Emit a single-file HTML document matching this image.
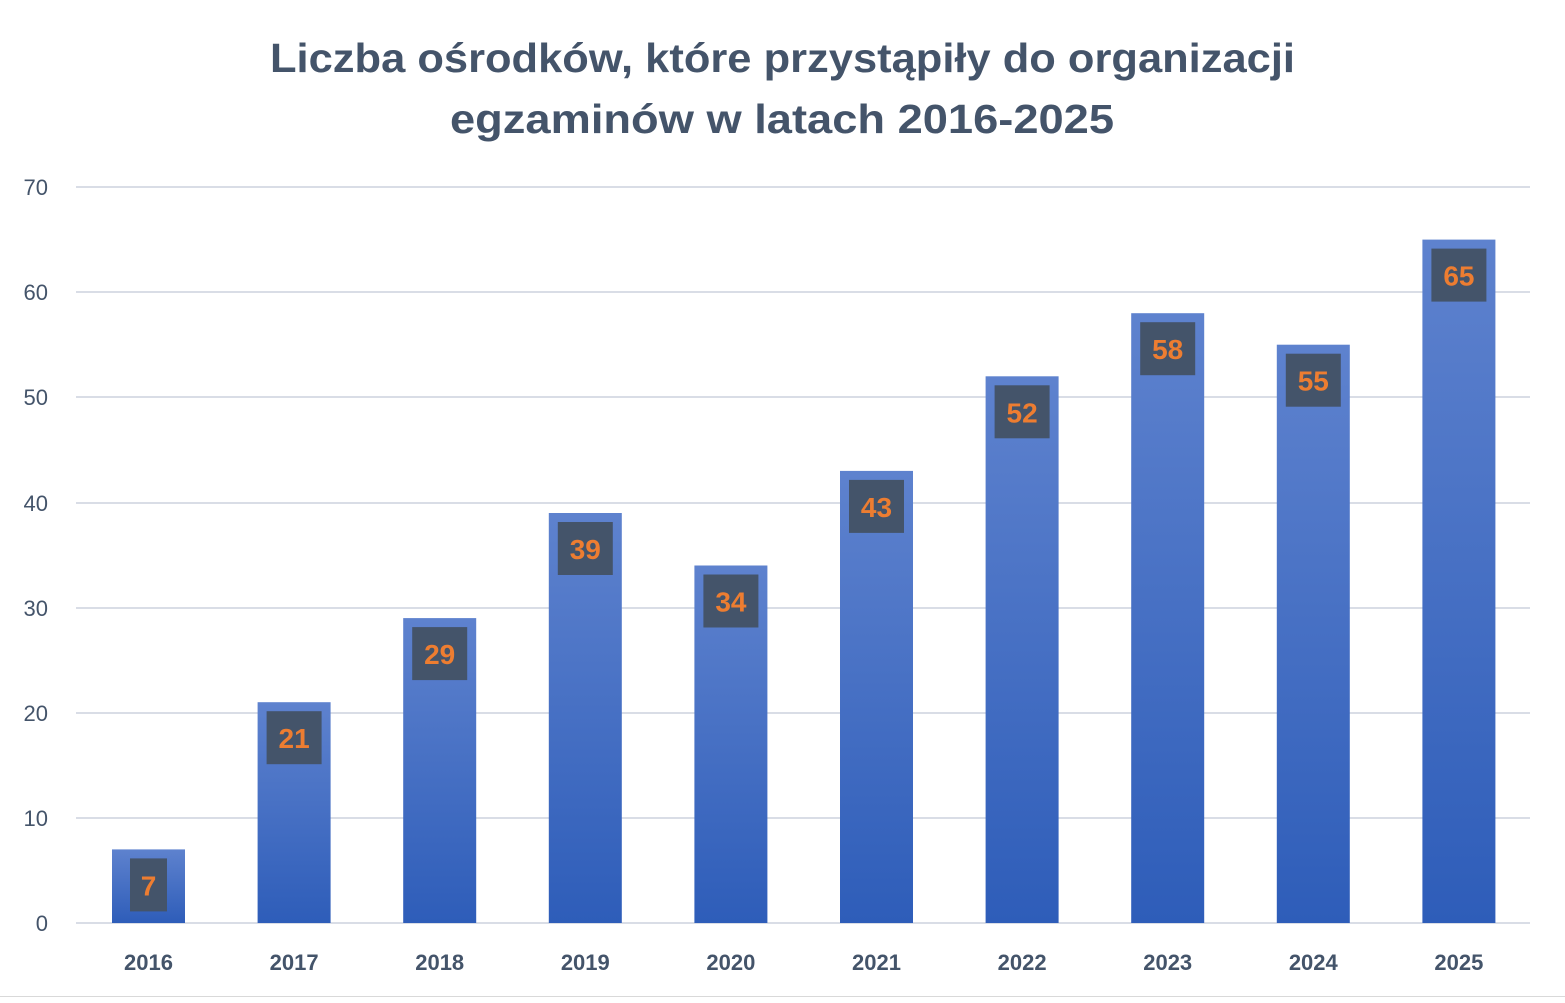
<!DOCTYPE html>
<html><head><meta charset="utf-8"><style>
body{margin:0;background:#fff}
svg text{font-family:"Liberation Sans",sans-serif}
</style></head><body>
<svg width="1565" height="998" viewBox="0 0 1565 998" xmlns="http://www.w3.org/2000/svg">
<defs><linearGradient id="g" x1="0" y1="0" x2="0" y2="1"><stop offset="0" stop-color="#5e82ce"/><stop offset="1" stop-color="#2e5db9"/></linearGradient></defs>
<rect x="0" y="0" width="1565" height="998" fill="#fff"/>
<line x1="0" y1="996.5" x2="1565" y2="996.5" stroke="#d9d9d9"/>
<g fill="#44546a" font-weight="bold" font-size="41">
<text x="270" y="72" textLength="1025" lengthAdjust="spacingAndGlyphs">Liczba ośrodków, które przystąpiły do organizacji</text>
<text x="450" y="133" textLength="664" lengthAdjust="spacingAndGlyphs">egzaminów w latach 2016-2025</text>
</g>
<g stroke="#d9dde6" stroke-width="2">
<line x1="76" x2="1530" y1="187" y2="187"/><line x1="76" x2="1530" y1="292" y2="292"/>
<line x1="76" x2="1530" y1="397" y2="397"/><line x1="76" x2="1530" y1="503" y2="503"/>
<line x1="76" x2="1530" y1="608" y2="608"/><line x1="76" x2="1530" y1="713" y2="713"/>
<line x1="76" x2="1530" y1="818" y2="818"/><line x1="76" x2="1530" y1="923" y2="923"/>
</g>
<g fill="#44546a" font-size="22" text-anchor="end">
<text x="48" y="195">70</text><text x="48" y="300">60</text><text x="48" y="405">50</text><text x="48" y="511">40</text>
<text x="48" y="616">30</text><text x="48" y="721">20</text><text x="48" y="826">10</text><text x="48" y="931">0</text>
</g>
<g fill="url(#g)">
<rect x="112" y="849.4" width="73" height="73.6"/>
<rect x="257.6" y="702.2" width="73" height="220.8"/>
<rect x="403.2" y="618.1" width="73" height="304.9"/>
<rect x="548.8" y="513" width="73" height="410"/>
<rect x="694.4" y="565.5" width="73" height="357.5"/>
<rect x="840" y="470.9" width="73" height="452.1"/>
<rect x="985.6" y="376.3" width="73" height="546.7"/>
<rect x="1131.2" y="313.2" width="73" height="609.8"/>
<rect x="1276.8" y="344.7" width="73" height="578.3"/>
<rect x="1422.4" y="239.6" width="73" height="683.4"/>
</g>
<g fill="#44546a">
<rect x="130" y="858.4" width="37" height="53"/>
<rect x="266.6" y="711.2" width="55" height="53"/>
<rect x="412.2" y="627.1" width="55" height="53"/>
<rect x="557.8" y="522" width="55" height="53"/>
<rect x="703.4" y="574.5" width="55" height="53"/>
<rect x="849" y="479.9" width="55" height="53"/>
<rect x="994.6" y="385.3" width="55" height="53"/>
<rect x="1140.2" y="322.2" width="55" height="53"/>
<rect x="1285.8" y="353.7" width="55" height="53"/>
<rect x="1431.4" y="248.6" width="55" height="53"/>
</g>
<g fill="#ed7d31" font-size="28" font-weight="bold" text-anchor="middle">
<text x="148.5" y="895.4">7</text>
<text x="294.1" y="748.2">21</text>
<text x="439.7" y="664.1">29</text>
<text x="585.3" y="559">39</text>
<text x="730.9" y="611.5">34</text>
<text x="876.5" y="516.9">43</text>
<text x="1022.1" y="422.3">52</text>
<text x="1167.7" y="359.2">58</text>
<text x="1313.3" y="390.7">55</text>
<text x="1458.9" y="285.6">65</text>
</g>
<g fill="#44546a" font-size="22" font-weight="bold" text-anchor="middle">
<text x="148.5" y="970">2016</text><text x="294.1" y="970">2017</text><text x="439.7" y="970">2018</text>
<text x="585.3" y="970">2019</text><text x="730.9" y="970">2020</text><text x="876.5" y="970">2021</text>
<text x="1022.1" y="970">2022</text><text x="1167.7" y="970">2023</text><text x="1313.3" y="970">2024</text>
<text x="1458.9" y="970">2025</text>
</g>
</svg>
</body></html>
